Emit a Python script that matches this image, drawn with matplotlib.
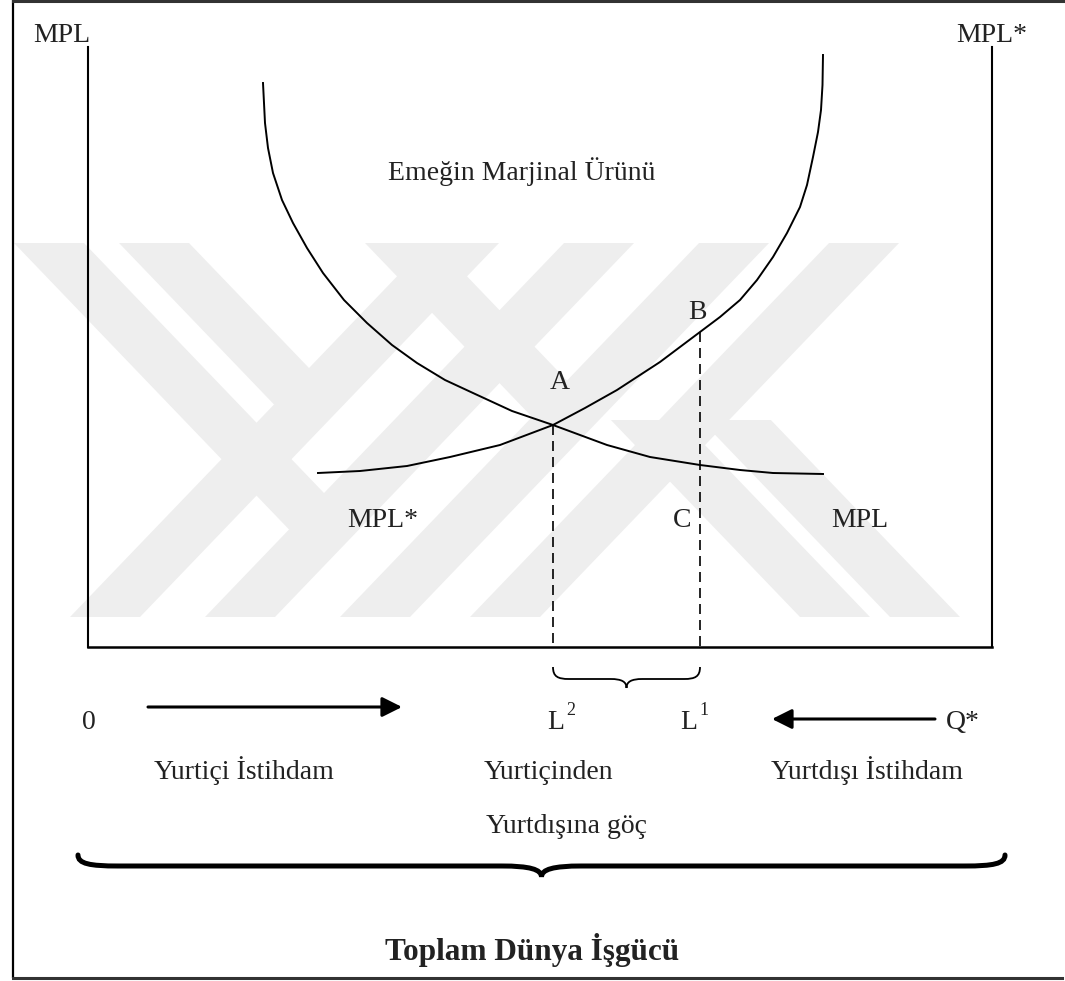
import numpy as np
import matplotlib.pyplot as plt
from matplotlib.path import Path
from matplotlib.patches import PathPatch, Polygon

# diagram units = pixels of the 1065 x 981 figure (y grows downward)
W, H = 1065, 981

# --- curves ---
mpl_x = [263, 264, 265, 268, 273, 282, 293, 307, 323, 344, 367, 392, 417,
         445, 473, 512, 553, 607, 650, 700, 740, 773, 823]
mpl_y = [83, 103, 123, 148, 173, 200, 223, 248, 273, 300, 323, 345, 363,
         380, 393, 411, 425, 445, 457, 465, 470, 473, 474]

mpl_star_x = [318, 360, 407, 450, 500, 553, 585, 617, 660, 700, 720, 740,
              757, 773, 787, 800, 807, 813, 818, 821, 822.5, 823]
mpl_star_y = [473, 471, 466, 457, 445, 425, 408, 390, 362, 332, 317, 300,
              280, 257, 233, 207, 185, 157, 132, 110, 85, 55]

# axes of the diagram
origin_x, right_x = 88, 992
axis_top, axis_base = 47, 647

# employment levels L2 (point A) and L1 (points B, C)
L2_x, A_y = 553, 425
L1_x, B_y = 700, 332

# labels: (text, x, baseline y, ha)
curve_labels = [
    ("MPL", 33, 42, "left"),
    ("MPL*", 956, 42, "left"),
    ("Emeğin Marjinal Ürünü", 388, 180, "left"),
    ("A", 560, 389, "center"),
    ("B", 697, 319, "center"),
    ("MPL*", 347, 527, "left"),
    ("C", 682, 527, "center"),
    ("MPL", 831, 527, "left"),
]
row_labels = [
    ("0", 89, 729, "center"),
    ("Q*", 946, 729, "left"),
    ("Yurtiçi İstihdam", 244, 779, "center"),
    ("Yurtiçinden", 484, 779, "left"),
    ("Yurtdışı İstihdam", 867, 779, "center"),
    ("Yurtdışına göç", 486, 833, "left"),
]
total_label = "Toplam Dünya İşgücü"

# faint watermark stripes
wm_slash_bottom = [70, 205, 340, 470]   # "/" stripes, left edge at the bottom
wm_arm_top = [14, 119, 365]             # "\" arms, left edge at the top
wm_leg_bottom = [800, 890]              # "\" legs of the K, left edge at the bottom

FONT = ["Liberation Serif", "DejaVu Serif"]
INK = "#222222"

fig = plt.figure(figsize=(W / 100, H / 100), dpi=100)
fig.patch.set_facecolor("white")
ax = fig.add_axes([0, 0, 1, 1])
ax.set_xlim(0, W)
ax.set_ylim(H, 0)
ax.axis("off")

# --- watermark ---
wm_col = "#eeeeee"
k, top, bot, w = 0.96, 243, 617, 70
for b in wm_slash_bottom:
    ax.add_patch(Polygon([(b, bot), (b + w, bot), (b + w + k * (bot - top), top),
                          (b + k * (bot - top), top)], color=wm_col, lw=0, zorder=0))
for a, b in zip(wm_arm_top, [205, 70, 340]):
    yend = (b - a) / (2 * k) + (top + bot) / 2
    ax.add_patch(Polygon([(a, top), (a + w, top), (a + w + k * (yend - top), yend),
                          (a + k * (yend - top), yend)], color=wm_col, lw=0, zorder=0))
for b in wm_leg_bottom:
    ytop = 420
    ax.add_patch(Polygon([(b, bot), (b + w, bot), (b + w - k * (bot - ytop), ytop),
                          (b - k * (bot - ytop), ytop)], color=wm_col, lw=0, zorder=0))

# --- frame ---
ax.plot([13, 13], [0, 978], color="black", lw=1.6, solid_capstyle="butt")
ax.plot([13, W], [1, 1], color="#333333", lw=2.2)
ax.plot([13, 1062], [978, 978], color="#333333", lw=2.2)

# --- axes ---
ax.plot([origin_x, origin_x], [axis_top, axis_base], color="black", lw=1.5)
ax.plot([right_x, right_x], [axis_top, axis_base], color="black", lw=1.5)
ax.plot([origin_x, right_x], [axis_base, axis_base], color="black", lw=1.8)

# --- curves ---
ax.plot(mpl_x, mpl_y, color="black", lw=1.4, solid_joinstyle="round")
ax.plot(mpl_star_x, mpl_star_y, color="black", lw=1.4, solid_joinstyle="round")

# --- dashed drop lines ---
dash = (0, (6, 3.6))
ax.plot([L2_x, L2_x], [A_y, axis_base], color="black", lw=1.2, linestyle=dash)
ax.plot([L1_x, L1_x], [B_y, axis_base], color="black", lw=1.2, linestyle=dash)


def brace(x0, x1, y_end, y_mid, y_tip, curl):
    xm = (x0 + x1) / 2
    dy = y_mid - y_end
    verts = [
        (x0, y_end),
        (x0, y_mid - 0.2 * dy), (x0 + 0.3 * curl, y_mid), (x0 + curl, y_mid),
        (xm - curl, y_mid),
        (xm - 0.3 * curl, y_mid), (xm, y_mid + 0.3 * (y_tip - y_mid)), (xm, y_tip),
        (xm, y_mid + 0.3 * (y_tip - y_mid)), (xm + 0.3 * curl, y_mid), (xm + curl, y_mid),
        (x1 - curl, y_mid),
        (x1 - 0.3 * curl, y_mid), (x1, y_mid - 0.2 * dy), (x1, y_end),
    ]
    codes = ([Path.MOVETO] + [Path.CURVE4] * 3 + [Path.LINETO] + [Path.CURVE4] * 6
             + [Path.LINETO] + [Path.CURVE4] * 3)
    return Path(verts, codes)


ax.add_patch(PathPatch(brace(L2_x, L1_x, 667, 679, 688, 16), fc="none",
                       ec="black", lw=1.3))
ax.add_patch(PathPatch(brace(78, 1005, 855, 866, 877, 40), fc="none",
                       ec="black", lw=3.6, capstyle="round"))

# --- arrows ---
arrow_style = dict(arrowstyle="-|>,head_length=0.6,head_width=0.3", lw=2.2,
                   color="black", mutation_scale=20, shrinkA=0, shrinkB=0)
ax.annotate("", xy=(402, 707), xytext=(148, 707), arrowprops=arrow_style)
ax.annotate("", xy=(772, 719), xytext=(935, 719), arrowprops=arrow_style)

# --- text ---
for txt, x, y, ha in curve_labels + row_labels:
    ax.text(x, y, txt, ha=ha, va="baseline", fontsize=20, family=FONT, color=INK)

ax.text(L2_x - 6, 729, "L", ha="left", va="baseline", fontsize=20, family=FONT, color=INK)
ax.text(L2_x + 13, 715, "2", ha="left", va="baseline", fontsize=13, family=FONT, color=INK)
ax.text(L1_x - 20, 729, "L", ha="left", va="baseline", fontsize=20, family=FONT, color=INK)
ax.text(L1_x - 1, 715, "1", ha="left", va="baseline", fontsize=13, family=FONT, color=INK)

ax.text(532, 960, total_label, ha="center", va="baseline", fontsize=22.5,
        family=FONT, weight="bold", color=INK)

fig.savefig("out.png", dpi=100, facecolor="white")
